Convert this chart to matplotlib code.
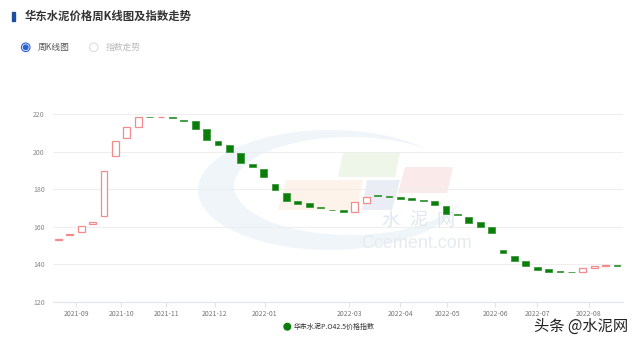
import matplotlib

matplotlib.use("Agg")
import matplotlib.pyplot as plt
import numpy as np
from matplotlib.patches import Circle, Ellipse, Polygon, Rectangle

plt.rcParams["font.family"] = ["Noto Sans CJK SC", "DejaVu Sans"]

# weekly index, open / close (no wicks in the source chart)
opens = [153.0, 155.5, 157.2, 161.6, 165.8, 198.0, 207.5, 213.1, 218.6, 218.3,
         218.5, 217.0, 216.5, 212.0, 206.0, 203.5, 199.5, 193.7, 191.0, 183.0,
         178.0, 173.8, 172.5, 170.6, 169.2, 168.8, 167.7, 172.7, 176.9, 176.6,
         175.9, 175.4, 174.4, 173.8, 171.3, 166.7, 165.4, 162.4, 159.7, 147.6,
         144.4, 141.9, 138.7, 137.5, 136.3, 136.1, 136.2, 137.9, 139.2, 139.5]
closes = [153.5, 156.4, 160.3, 162.6, 190.0, 206.0, 213.2, 218.6, 218.3, 218.6,
          217.9, 216.5, 212.2, 206.3, 203.6, 200.0, 194.0, 191.7, 186.6, 179.6,
          173.9, 172.3, 170.6, 170.1, 168.8, 167.7, 173.1, 175.7, 176.4, 175.8,
          175.1, 174.4, 174.0, 171.5, 166.8, 166.2, 162.2, 160.0, 157.0, 145.9,
          141.9, 139.1, 137.3, 136.2, 135.8, 135.8, 137.9, 139.1, 139.5, 139.3]

month_labels = ["2021-09", "2021-10", "2021-11", "2021-12", "2022-01", "2022-03",
                "2022-04", "2022-05", "2022-06", "2022-07", "2022-08"]
# where each month starts, in candle-index units
month_pos = [1.55, 5.5, 9.45, 13.7, 18.1, 25.5, 30.0, 34.1, 38.3, 42.0, 46.5]

UP = "#f58a8a"
DOWN = "#0a7d0a"
DOWN_EDGE = "#3a9a3a"

fig = plt.figure(figsize=(6.4, 3.44), dpi=100)

# background layer in pixel coordinates: header, watermark, legend
bg = fig.add_axes([0, 0, 1, 1], zorder=0)
bg.set_xlim(0, 640)
bg.set_ylim(344, 0)
bg.axis("off")

bg.add_patch(Rectangle((12.3, 11.5), 2.7, 9.5, color="#1d4e9e"))
bg.text(25, 16.5, "华东水泥价格周K线图及指数走势", fontsize=8.2, fontweight="bold",
        color="#333333", va="center")

bg.add_patch(Circle((25.7, 47.3), 4.3, fill=False, ec="#2a62d4", lw=0.8))
bg.add_patch(Circle((25.7, 47.3), 2.3, color="#2a62d4"))
bg.text(37.5, 47.5, "周K线图", fontsize=6.3, color="#555555", va="center")
bg.add_patch(Circle((93.7, 47.3), 4.3, fill=False, ec="#dddddd", lw=0.8))
bg.text(105.5, 47.5, "指数走势", fontsize=6.3, color="#bbbbbb", va="center")

# faint site watermark
bg.add_patch(Ellipse((330, 190), 264, 120, color="#f0f5fa", lw=0))
bg.add_patch(Ellipse((350, 186), 232, 98, color="white", lw=0))
bg.add_patch(Polygon([(343, 153), (400, 153), (395, 177), (338, 177)], color="#eef6ea", lw=0))
bg.add_patch(Polygon([(286, 180), (363, 180), (357, 210), (278, 210)], color="#fdf3ea", lw=0))
bg.add_patch(Polygon([(367, 180), (400, 180), (392, 210), (362, 210)], color="#eaedf5", lw=0))
bg.add_patch(Polygon([(405, 167), (453, 167), (447, 193), (398, 193)], color="#fbeaea", lw=0))
for cx, ch in zip([390, 418, 445], "水泥网"):
    bg.text(cx, 221, ch, fontsize=13, color="#dfe7ef", ha="center", va="center")
bg.text(417, 244, "Ccement.com", fontsize=13, color="#e6ebf0", ha="center", va="center",
        family="Liberation Sans")

bg.add_patch(Circle((287.3, 326.7), 3.3, color="#0a7d0a"))
bg.text(294, 327, "华东水泥P.O42.5价格指数", fontsize=5, color="#333333", va="center")
bg.text(628, 326, "头条 @水泥网", fontsize=11, color="#222222", ha="right", va="center")

# candlestick axes
ax = fig.add_axes([52.7 / 640, 42 / 344, 570 / 640, 187.7 / 344], zorder=1)
ax.patch.set_alpha(0)

o = np.array(opens)
c = np.array(closes)
x = np.arange(len(o))
up = c >= o
body = np.maximum(np.abs(c - o), 0.25)
ax.bar(x[up], body[up], bottom=o[up], width=0.6, facecolor="white", edgecolor=UP,
       linewidth=0.9, zorder=3)
ax.bar(x[~up], body[~up], bottom=c[~up], width=0.6, facecolor=DOWN, edgecolor=DOWN_EDGE,
       linewidth=0.6, zorder=3)

ax.set_xlim(-0.5, len(o) - 0.5)
ax.set_ylim(120, 220)
ax.set_yticks(range(120, 221, 20))
ax.set_xticks(month_pos)
ax.set_xticklabels(month_labels)
ax.grid(axis="y", color="#eeeeee", linewidth=0.8)
ax.set_axisbelow(True)
for side in ["top", "right", "left"]:
    ax.spines[side].set_visible(False)
ax.spines["bottom"].set_color("#dfe5f0")
ax.tick_params(axis="y", length=0, labelsize=5, labelcolor="#888888", pad=5.8)
ax.tick_params(axis="x", length=3.5, color="#dfe5f0", labelsize=5, labelcolor="#777777", pad=2)

fig.savefig("out.png", dpi=100)
